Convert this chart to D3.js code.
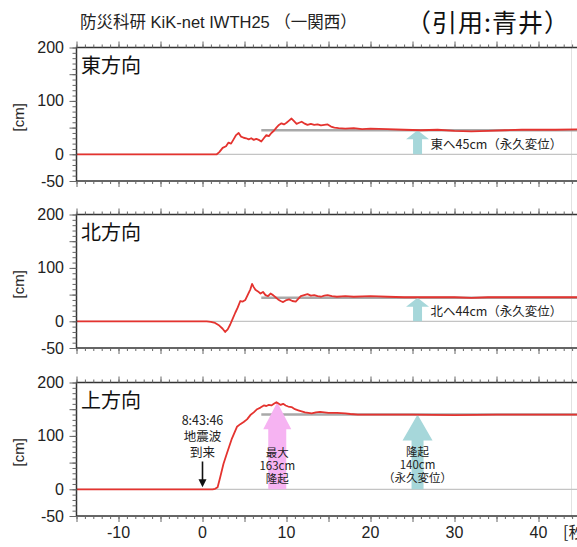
<!DOCTYPE html>
<html>
<head>
<meta charset="utf-8">
<script src="https://cdn.jsdelivr.net/npm/d3@7"></script>
<style>
  html, body { margin: 0; padding: 0; background: #fff; }
  svg { display: block; }
  text { font-family: "Liberation Sans", "Noto Sans CJK JP", sans-serif; }
  .jp { font-family: "Noto Sans CJK JP", "Liberation Sans", sans-serif; }
</style>
</head>
<body>
<svg id="chart" width="577" height="547"></svg>
<script>
// ---- data: displacement [cm] against time [s] from wave arrival (8:43:46) ----
const eastT = [-15, 1.7, 2.0, 2.4, 2.8, 3.1, 3.4, 3.7, 4.0, 4.3, 4.6, 4.9, 5.2, 5.5, 5.8, 6.1, 6.4, 6.7, 7.0, 7.3, 7.6, 7.9, 8.2, 8.5, 8.8, 9.1, 9.4, 9.7, 10.0, 10.3, 10.6, 10.9, 11.2, 11.5, 11.8, 12.1, 12.5, 12.9, 13.3, 13.7, 14.1, 14.5, 14.9, 15.3, 15.7, 16.2, 17, 18, 19, 20, 22, 24, 26, 28, 30, 32, 34, 36, 38, 40, 42, 45];
const eastCm = [0, 0, 4, 12, 15, 22, 20, 28, 36, 40, 33, 31, 30, 28, 30, 27, 29, 27, 24, 30, 36, 34, 40, 44, 50, 55, 58, 56, 59, 63, 67, 62, 57, 59, 61, 58, 55, 57, 55, 56, 54, 55, 56, 52, 50, 49, 48, 49, 47, 48, 47, 46, 45, 46, 44, 43, 44, 45, 46, 46, 46, 47];

const northT = [-15, 0.5, 1.0, 1.5, 2.0, 2.4, 2.7, 3.0, 3.3, 3.6, 3.9, 4.2, 4.5, 4.8, 5.1, 5.4, 5.7, 5.9, 6.1, 6.3, 6.6, 6.9, 7.2, 7.5, 7.8, 8.1, 8.4, 8.7, 9.0, 9.3, 9.6, 9.9, 10.3, 10.7, 11.1, 11.4, 11.7, 12.1, 12.5, 12.9, 13.3, 13.7, 14.1, 14.5, 14.9, 15.4, 16, 17, 18, 20, 22, 24, 26, 28, 30, 32, 34, 36, 38, 40, 42, 45];
const northCm = [0, 0, -1, -3, -8, -14, -20, -15, -6, 5, 16, 26, 38, 37, 40, 50, 60, 70, 64, 59, 56, 52, 55, 49, 47, 52, 49, 45, 41, 38, 36, 39, 41, 38, 37, 42, 47, 49, 51, 48, 49, 47, 46, 48, 49, 47, 46, 47, 46, 47, 46, 45, 45, 45, 45, 44, 45, 45, 45, 45, 45, 45];

const upT = [-15, 1.2, 1.5, 1.8, 2.1, 2.5, 2.9, 3.5, 4.1, 4.5, 4.9, 5.3, 5.7, 6.1, 6.5, 6.9, 7.3, 7.6, 7.9, 8.2, 8.5, 8.8, 9.0, 9.3, 9.6, 9.9, 10.2, 10.6, 11.0, 11.4, 11.8, 12.2, 12.6, 13.0, 13.5, 14.0, 14.5, 15.0, 16.0, 17.0, 17.6, 18.5, 20, 25, 30, 35, 40, 45];
const upCm = [0, 0, 1, 4, 22, 48, 67, 95, 117, 122, 126, 131, 139, 144, 150, 153, 157, 156, 158, 157, 160, 163, 161, 158, 160, 157, 155, 154, 150, 148, 146, 144, 143, 142, 144, 145, 144, 143, 143, 142, 141, 140, 140, 140, 139, 140, 140, 140];

// permanent displacement and peak values [cm]
const permanentCm = [45, 44, 140];
const peakUpCm = 163;
const peakUpT = 8.9;
const labelT = 25.6;   // time at which the permanent-offset arrows stand

const panelTitles = ["東方向", "北方向", "上方向"];
const offsetLabels = [["東へ45cm（永久変位）"], ["北へ44cm（永久変位）"], ["隆起", "140cm", "（永久変位）"]];
const peakLabel = ["最大", "163cm", "隆起"];
const arrivalLabel = ["8:43:46", "地震波", "到来"];

const xTickLabels = [-10, 0, 10, 20, 30, 40];
const yTickLabels = [-50, 0, 100, 200];

// ---- layout ----
const svg = d3.select("#chart");
const panelTops = [47.5, 214.5, 382.5];
const panelH = 133.5;
const x = d3.scaleLinear().domain([-15, 45]).range([76.5, 580.5]);

const RED = "#e4332f";
const CYAN = "#a6d7da";
const PINK = "#f6b3f2";

// title lines
svg.append("text")
  .attr("x", 80).attr("y", 28).attr("font-size", 16.5).attr("fill", "#222")
  .text("防災科研  KiK-net IWTH25 （一関西）");
svg.append("text").attr("class", "jp")
  .attr("x", 406).attr("y", 32).attr("font-size", 25).attr("letter-spacing", 1)
  .attr("fill", "#111")
  .text("（引用:青井）");

// faint edge line on the right
svg.append("line").attr("x1", 571.5).attr("x2", 571.5).attr("y1", 40).attr("y2", 518)
  .attr("stroke", "#e2e2e2").attr("stroke-width", 1);

// upward block arrow from value v0 to v1 at time t
function blockArrow(g, y, t, v0, v1, shaftW, headW, headL, color) {
  const cx = x(t), yb = y(v0), yt = y(v1);
  const p = d3.path();
  p.moveTo(cx - shaftW / 2, yb);
  p.lineTo(cx - shaftW / 2, yt + headL);
  p.lineTo(cx - headW / 2, yt + headL);
  p.lineTo(cx, yt);
  p.lineTo(cx + headW / 2, yt + headL);
  p.lineTo(cx + shaftW / 2, yt + headL);
  p.lineTo(cx + shaftW / 2, yb);
  p.closePath();
  g.append("path").attr("d", p.toString()).attr("fill", color);
}

// centred multi-line label drawn as one text block
function stackedLabel(g, cx, y0, lines, size, lineH) {
  const t = g.append("text").attr("class", "jp").attr("x", cx).attr("y", y0)
    .attr("text-anchor", "middle").attr("font-size", size).attr("fill", "#222");
  lines.forEach((s, k) => {
    t.append("tspan").attr("x", cx).attr("dy", k === 0 ? 0 : lineH).text(s);
  });
}

const series = [[eastT, eastCm], [northT, northCm], [upT, upCm]];

series.forEach(([ts, vs], i) => {
  const top = panelTops[i];
  const y = d3.scaleLinear().domain([-50, 200]).range([top + panelH, top]);
  const g = svg.append("g");

  // zero reference line
  g.append("line").attr("x1", x(-15)).attr("x2", x(45)).attr("y1", y(0)).attr("y2", y(0))
    .attr("stroke", "#c4c4c4").attr("stroke-width", 1.2);

  // permanent offset level
  g.append("line").attr("x1", x(7)).attr("x2", x(45))
    .attr("y1", y(permanentCm[i])).attr("y2", y(permanentCm[i]))
    .attr("stroke", "#a9a9a9").attr("stroke-width", 2.6);

  // arrows
  if (i < 2) {
    blockArrow(g, y, labelT, 0, permanentCm[i], 9, 23, 9, CYAN);
  } else {
    blockArrow(g, y, labelT, 0, permanentCm[i], 12, 30, 26, CYAN);
    blockArrow(g, y, peakUpT, 0, peakUpCm, 18, 28, 27, PINK);
  }

  // displacement trace
  const line = d3.line().x((d, k) => x(ts[k])).y(d => y(d));
  g.append("path").datum(vs).attr("d", line)
    .attr("fill", "none").attr("stroke", RED).attr("stroke-width", 1.8)
    .attr("stroke-linejoin", "round");

  // frame
  g.append("rect").attr("x", x(-15)).attr("y", y(200))
    .attr("width", x(45) - x(-15)).attr("height", y(-50) - y(200))
    .attr("fill", "none").attr("stroke", "#333").attr("stroke-width", 1.5);

  // ticks: y axis
  const yMinor = d3.axisLeft(y).tickValues(d3.range(-50, 201, 10)).tickSize(4).tickSizeOuter(0).tickFormat("");
  const yMajor = d3.axisLeft(y).tickValues(d3.range(-50, 201, 50)).tickSize(7).tickSizeOuter(0).tickFormat("");
  [yMinor, yMajor].forEach(ax => {
    const a = g.append("g").attr("transform", `translate(${x(-15)},0)`).call(ax);
    a.select(".domain").remove();
    a.selectAll("line").attr("stroke", "#666");
  });
  g.selectAll(null).data(yTickLabels).enter().append("text")
    .attr("x", 64).attr("y", d => y(d) + 5.5).attr("text-anchor", "end")
    .attr("font-size", 16).attr("fill", "#222").text(d => d);

  // ticks: x axis top and bottom
  [[d3.axisTop, y(200)], [d3.axisBottom, y(-50)]].forEach(([mk, yy]) => {
    [[d3.range(-15, 46, 1), 3], [d3.range(-15, 46, 5), 6]].forEach(([vals, len]) => {
      const a = g.append("g").attr("transform", `translate(0,${yy})`)
        .call(mk(x).tickValues(vals).tickSize(len).tickSizeOuter(0).tickFormat(""));
      a.select(".domain").remove();
      a.selectAll("line").attr("stroke", "#666");
    });
  });

  // axis unit
  g.append("text")
    .attr("transform", `translate(24,${top + panelH / 2 + 3}) rotate(-90)`)
    .attr("text-anchor", "middle").attr("font-size", 15).attr("fill", "#222").text("[cm]");

  // panel title
  g.append("text").attr("class", "jp").attr("x", 81).attr("y", top + 25)
    .attr("font-size", 20).attr("fill", "#111").text(panelTitles[i]);

  // offset labels
  if (i < 2) {
    g.append("text").attr("class", "jp").attr("x", x(labelT) + 13).attr("y", y(0) - 5)
      .attr("font-size", 12.5).attr("fill", "#222").text(offsetLabels[i][0]);
  } else {
    stackedLabel(g, x(labelT), top + 73, offsetLabels[i], 11.5, 13);
    stackedLabel(g, x(peakUpT), top + 74, peakLabel, 11.5, 13);
    stackedLabel(g, x(0), top + 42.5, arrivalLabel, 12.5, 16);

    // arrival arrow
    const ax0 = x(0);
    g.append("line").attr("x1", ax0).attr("x2", ax0).attr("y1", top + 79).attr("y2", y(0) - 8)
      .attr("stroke", "#111").attr("stroke-width", 1.6);
    g.append("path")
      .attr("d", `M${ax0 - 4},${y(0) - 10}L${ax0},${y(0) - 2}L${ax0 + 4},${y(0) - 10}Z`)
      .attr("fill", "#111");

    // x tick labels
    g.selectAll(null).data(xTickLabels).enter().append("text")
      .attr("x", d => x(d)).attr("y", y(-50) + 22).attr("text-anchor", "middle")
      .attr("font-size", 16).attr("fill", "#222").text(d => d);
    g.append("text").attr("class", "jp").attr("x", 563).attr("y", y(-50) + 22)
      .attr("font-size", 16).attr("fill", "#222").text("[秒]");
  }
});
</script>
</body>
</html>
